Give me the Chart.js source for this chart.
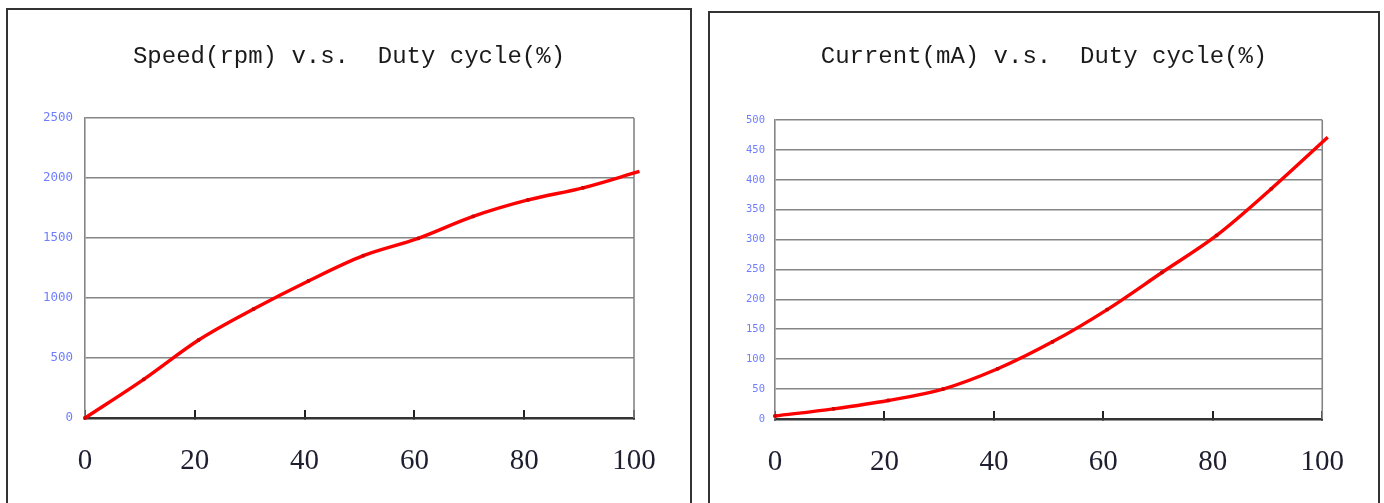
<!DOCTYPE html>
<html>
<head>
<meta charset="utf-8">
<script src="https://cdn.jsdelivr.net/npm/chart.js@4.4.1/dist/chart.umd.min.js"></script>
<style>
  html, body { margin: 0; padding: 0; background: #ffffff; width: 1384px; height: 503px; overflow: hidden; }
  .panel { position: absolute; box-sizing: border-box; border: 2px solid #333; background: #fff; }
  #p1 { left: 6px; top: 8px; width: 686px; height: 520px; }
  #p2 { left: 708px; top: 11px; width: 672px; height: 520px; }
  canvas { position: absolute; }
  #c1 { left: 8px; top: 10px; }
  #c2 { left: 710px; top: 13px; }
</style>
</head>
<body>
<div class="panel" id="p1"></div>
<div class="panel" id="p2"></div>
<canvas id="c1" width="682" height="493" style="width:682px;height:493px"></canvas>
<canvas id="c2" width="668" height="490" style="width:668px;height:490px"></canvas>
<script>
// ---- data ----
const dutyCycle = [0, 10.7, 20.7, 30.7, 40.7, 50.7, 60.7, 70.7, 80.7, 90.7, 101];
const speedRpm  = [0, 322, 650, 908, 1142, 1353, 1497, 1680, 1817, 1918, 2055];
const currentMa = [5, 17, 31, 50, 84, 129, 183, 245, 307, 385, 471];
const xTickValues = [0, 20, 40, 60, 80, 100];
const speedTicks = [0, 500, 1000, 1500, 2000, 2500];
const currentTicks = [0, 50, 100, 150, 200, 250, 300, 350, 400, 450, 500];
const title1 = 'Speed(rpm) v.s.  Duty cycle(%)';
const title2 = 'Current(mA) v.s.  Duty cycle(%)';

const rightBorder = {
  id: 'rightBorder',
  beforeDatasetsDraw(chart) {
    const a = chart.chartArea, ctx = chart.ctx;
    ctx.save();
    ctx.strokeStyle = '#858585';
    ctx.lineWidth = 1.6;
    ctx.beginPath();
    ctx.moveTo(a.right, a.top);
    ctx.lineTo(a.right, a.bottom);
    ctx.stroke();
    ctx.restore();
  }
};

function makeChart(id, title, ys, yTicks, cfg) {
  const pts = dutyCycle.map((x, i) => ({ x: x, y: ys[i] }));
  return new Chart(document.getElementById(id), {
    type: 'line',
    data: {
      datasets: [{
        data: pts,
        borderColor: '#ff0000',
        borderWidth: 3.4,
        tension: 0.4,
        cubicInterpolationMode: 'monotone',
        pointStyle: 'rect',
        pointRadius: 1.8,
        pointBackgroundColor: '#d00000',
        pointBorderColor: '#d00000',
        pointBorderWidth: 1,
        clip: 12
      }]
    },
    options: {
      responsive: false,
      animation: false,
      devicePixelRatio: 1,
      layout: { padding: 0 },
      plugins: {
        legend: { display: false },
        tooltip: { enabled: false },
        title: {
          display: true,
          text: title,
          color: '#1a1a1a',
          font: { family: 'Liberation Mono', size: 24, weight: 'normal', lineHeight: 1.2 },
          padding: { top: cfg.titleTop, bottom: cfg.titleBottom }
        }
      },
      scales: {
        x: {
          type: 'linear',
          min: 0, max: 100,
          afterBuildTicks(s) { s.ticks = xTickValues.map(v => ({ value: v })); },
          afterFit(s) { s.height = cfg.xHeight; },
          grid: { display: true, drawOnChartArea: false, drawTicks: true, tickLength: -8, color: '#222', lineWidth: 2 },
          border: { display: true, color: '#333', width: 2.5 },
          ticks: {
            color: '#1e1e30',
            font: { family: 'Liberation Serif', size: 29 },
            padding: cfg.xPad,
            maxRotation: 0,
            autoSkip: false,
            callback: v => String(v)
          }
        },
        y: {
          type: 'linear',
          position: 'left',
          min: yTicks[0], max: yTicks[yTicks.length - 1],
          afterBuildTicks(s) { s.ticks = yTicks.map(v => ({ value: v })); },
          afterFit(s) { s.width = cfg.yWidth; },
          grid: { color: '#858585', lineWidth: 1.6, drawTicks: false },
          border: { display: true, color: '#858585', width: 1.6 },
          ticks: {
            color: '#6f7eff',
            font: { family: 'DejaVu Sans Mono', size: cfg.yFont },
            padding: cfg.yPad,
            autoSkip: false,
            callback: v => String(v)
          }
        },
        y2: {
          type: 'linear',
          position: 'right',
          display: true,
          afterFit(s) { s.width = cfg.rightW; },
          grid: { display: false },
          border: { display: false },
          ticks: { display: false }
        }
      }
    },
    plugins: [rightBorder]
  });
}

makeChart('c1', title1, speedRpm, speedTicks, {
  titleTop: 32.6, titleBottom: 46.6, xHeight: 85, xPad: 34, yWidth: 77, rightW: 56, yFont: 12.5, yPad: 12
});
makeChart('c2', title2, currentMa, currentTicks, {
  titleTop: 29.6, titleBottom: 48.6, xHeight: 84, xPad: 34, yWidth: 65, rightW: 55, yFont: 10.5, yPad: 10
});
</script>
</body>
</html>
